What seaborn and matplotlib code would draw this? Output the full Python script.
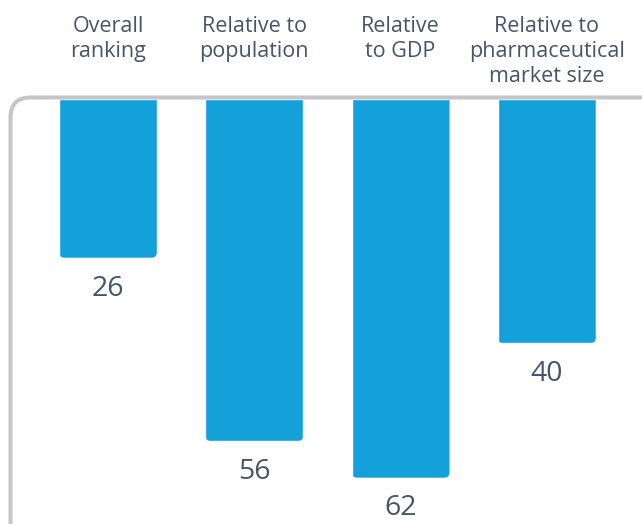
import matplotlib
matplotlib.use("Agg")
import matplotlib.pyplot as plt
import seaborn as sns
import pandas as pd
from matplotlib.patches import FancyBboxPatch

categories = ["Overall\nranking", "Relative to\npopulation", "Relative\nto GDP",
              "Relative to\npharmaceutical\nmarket size"]
values = [26, 56, 62, 40]

BAR = "#14a1da"
TEXT = "#475666"
FRAME = "#c6c6ca"

sns.set_theme(style="white")
plt.rcParams["font.family"] = ["Open Sans", "DejaVu Sans"]

W, H, DPI = 642, 524, 100
fig = plt.figure(figsize=(W / DPI, H / DPI), dpi=DPI)
fig.patch.set_facecolor("white")

top_px = 99.0
frame_px = 97.5
ax = fig.add_axes([0, 0, 1, 1 - top_px / H])
df = pd.DataFrame({"cat": categories, "val": values})
sns.barplot(data=df, x="cat", y="val", color=BAR, saturation=1, width=0.67, ax=ax, zorder=2)

px_per_x = 146.3
x0_px = 108
ax.set_xlim(-x0_px / px_per_x, (W - x0_px) / px_per_x)
px_per_y = 6.11
ax.set_ylim((H - top_px) / px_per_y, 0)
ax.axis("off")

# rounded bottom corners
aspect = px_per_x / px_per_y
r_px = 6
for p in list(ax.patches):
    x, y = p.get_x(), p.get_y()
    w, h = p.get_width(), p.get_height()
    rb = FancyBboxPatch((x, y - 5), w, h + 5,
                        boxstyle=f"round,pad=0,rounding_size={r_px / px_per_x}",
                        mutation_aspect=aspect, transform=ax.transData,
                        facecolor="none", edgecolor="none")
    ax.add_patch(rb)
    p.set_clip_path(rb)

labels = [str(v) for v in values]
ax.bar_label(ax.containers[0], labels=labels, padding=12, fontsize=20.5, color=TEXT)

# category headers
ax_h_px = H - top_px
for i, c in enumerate(categories):
    ax.text(i, 1 + (top_px - 16) / ax_h_px, c,
            transform=ax.get_xaxis_transform(), ha="center", va="top",
            fontsize=15.5, color=TEXT, linespacing=1.24, clip_on=False)

# frame line with rounded corner
fr = FancyBboxPatch((10.5 / DPI, -1), 10, (H - frame_px) / DPI + 1,
                    boxstyle=f"round,pad=0,rounding_size={20 / DPI}",
                    transform=fig.dpi_scale_trans, facecolor="none",
                    edgecolor=FRAME, linewidth=2.9, zorder=5)
fig.patches.append(fr)
fr.set_figure(fig)

fig.savefig("out.png", dpi=DPI)
